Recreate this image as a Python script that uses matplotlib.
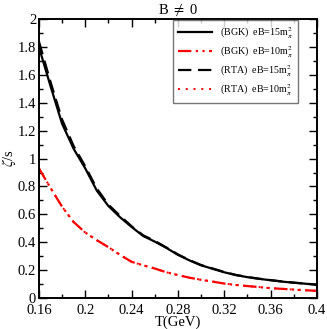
import matplotlib
matplotlib.use("Agg")
import matplotlib.pyplot as plt
from matplotlib.ticker import MultipleLocator

T = [0.16, 0.17, 0.18, 0.19, 0.20, 0.21, 0.22, 0.23, 0.24, 0.25, 0.26, 0.27, 0.28,
     0.29, 0.30, 0.31, 0.32, 0.33, 0.34, 0.35, 0.36, 0.37, 0.38, 0.39, 0.40]
bgk_15 = [1.80, 1.52, 1.25, 1.07, 0.93, 0.77, 0.66, 0.58, 0.51, 0.445, 0.405, 0.36, 0.31,
          0.27, 0.235, 0.21, 0.185, 0.165, 0.15, 0.138, 0.128, 0.118, 0.11, 0.103, 0.095]
rta_15 = [1.84, 1.55, 1.28, 1.09, 0.945, 0.785, 0.67, 0.59, 0.515, 0.45, 0.41, 0.363, 0.313,
          0.272, 0.237, 0.212, 0.187, 0.166, 0.151, 0.139, 0.129, 0.119, 0.111, 0.104, 0.096]
bgk_10 = [0.93, 0.79, 0.655, 0.545, 0.47, 0.415, 0.365, 0.31, 0.26, 0.235, 0.212, 0.185, 0.165,
          0.146, 0.131, 0.118, 0.104, 0.094, 0.086, 0.079, 0.071, 0.066, 0.061, 0.056, 0.052]
rta_10 = [0.93, 0.79, 0.655, 0.545, 0.47, 0.415, 0.365, 0.31, 0.26, 0.235, 0.212, 0.185, 0.165,
          0.146, 0.131, 0.118, 0.104, 0.094, 0.086, 0.079, 0.071, 0.066, 0.061, 0.056, 0.052]

labels = [r"(BGK)  eB=15m$_\pi^2$", r"(BGK)  eB=10m$_\pi^2$",
          r"(RTA)  eB=15m$_\pi^2$", r"(RTA)  eB=10m$_\pi^2$"]

plt.rcParams['font.family'] = ['Liberation Serif', 'DejaVu Serif']
plt.rcParams['mathtext.fontset'] = 'stix'

fig = plt.figure(figsize=(3.27, 3.29), dpi=100)
ax = fig.add_axes([0.119, 0.094, 0.85, 0.848])

ax.plot(T, bgk_15, color='black', lw=1.6, ls='-', label=labels[0])
ax.plot(T, bgk_10, color='red', lw=1.6, ls=(0, (6, 2, 1, 2, 1, 2)), label=labels[1])
ax.plot(T, rta_15, color='black', lw=1.6, ls=(0, (6, 3)), label=labels[2])
ax.plot(T, rta_10, color='red', lw=1.4, ls=(0, (1, 3)), label=labels[3])

ax.set_xlim(0.16, 0.4)
ax.set_ylim(0, 2)
ax.xaxis.set_minor_locator(MultipleLocator(0.02))
ax.yaxis.set_minor_locator(MultipleLocator(0.1))
ax.set_xticks([0.16, 0.2, 0.24, 0.28, 0.32, 0.36, 0.4])
ax.set_xticklabels(['0.16', '0.2', '0.24', '0.28', '0.32', '0.36', '0.4'])
ax.set_yticks([0, 0.2, 0.4, 0.6, 0.8, 1, 1.2, 1.4, 1.6, 1.8, 2])
ax.set_yticklabels(['0', '0.2', '0.4', '0.6', '0.8', '1', '1.2', '1.4', '1.6', '1.8', '2'])
ax.tick_params(which='both', direction='in', top=True, right=True, labelsize=10.5)
ax.tick_params(axis='x', pad=4)
ax.tick_params(axis='y', pad=2)
ax.tick_params(which='major', length=6, width=1)
ax.tick_params(which='minor', length=3, width=1)
for s in ax.spines.values():
    s.set_linewidth(1.4)

ax.set_xlabel('T(GeV)', fontsize=10.5, labelpad=-1)
ax.set_ylabel(r'$\zeta$/s', fontsize=10.5, labelpad=0)
ax.set_title(r'B $\neq$ 0', fontsize=10.5, pad=4)

leg = ax.legend(loc='upper right', bbox_to_anchor=(0.932, 0.997), fontsize=7.2,
                frameon=True, fancybox=False, edgecolor='#555555',
                handlelength=3.4, handletextpad=0.8, borderaxespad=0.0,
                labelspacing=0.3, borderpad=0.5)
leg.get_frame().set_linewidth(1.0)

fig.savefig('out.png', dpi=100)
